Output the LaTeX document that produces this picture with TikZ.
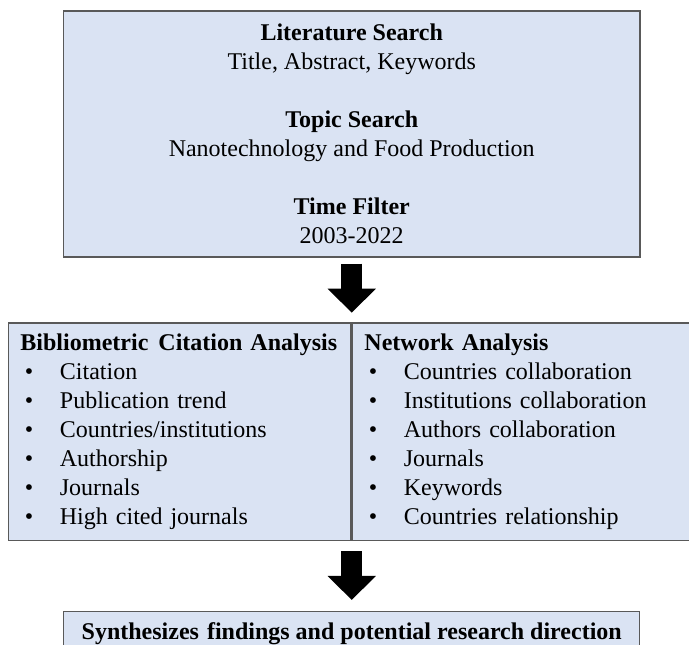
\documentclass[tikz,border=0pt]{standalone}
\usepackage{fontspec}
\setmainfont{Liberation Serif}
\usetikzlibrary{arrows.meta,positioning}
\definecolor{FlowFill}{HTML}{DAE3F3}
\definecolor{FlowLine}{HTML}{595959}
\newcommand\bulletline[1]{\\\hspace*{3.3pt}\makebox[26.3pt][l]{\textbullet}#1}
\tikzset{
  panel/.style={draw=FlowLine, fill=FlowFill, line width=1.1pt, inner sep=0pt},
  cell/.style={panel, minimum height=163pt, inner xsep=9pt, inner ysep=0pt, align=left},
  bigarrow/.style={-{Triangle[length=18pt,width=35.25pt]}, line width=15.75pt, draw=black},
}
\begin{document}
\begin{tikzpicture}[font=\fontsize{18}{21.7}\selectfont]
  \useasboundingbox (0,0) rectangle (516.75pt,-483pt);
  \node[panel, minimum width=432.4pt, minimum height=184.5pt, align=center] (search) at (263.8pt,-100.5pt)
    {\textbf{Literature Search}\\Title, Abstract, Keywords\\[21.7pt]
     \textbf{Topic Search}\\Nanotechnology and Food Production\\[21.7pt]
     \textbf{Time Filter}\\2003-2022};
  \node[cell, text width=238.9pt, below left=48.5pt and 0pt of search.south] (biblio)
    {\mbox{\textbf{Bibliometric\hspace{1.5pt} Citation Analysis}}%
     \bulletline{Citation}\bulletline{Publication trend}\bulletline{Countries/institutions}%
     \bulletline{Authorship}\bulletline{Journals}\bulletline{High cited journals}};
  \node[cell, text width=243pt, right=0pt of biblio] (network)
    {\textbf{Network Analysis}%
     \bulletline{Countries collaboration}\bulletline{Institutions collaboration}%
     \bulletline{Authors collaboration}\bulletline{Journals}\bulletline{Keywords}%
     \bulletline{Countries relationship}};
  \node[panel, minimum width=432pt, minimum height=32.6pt, below=52.3pt of biblio.south east] (synth)
    {\textbf{Synthesizes\hspace{1.5pt} findings and potential research direction}};
  \draw[bigarrow, shorten <=4.5pt, shorten >=7.3pt] (search.south) -- (biblio.north east);
  \draw[bigarrow, shorten <=7.5pt, shorten >=8.25pt] (biblio.south east) -- (synth.north);
\end{tikzpicture}
\end{document}
